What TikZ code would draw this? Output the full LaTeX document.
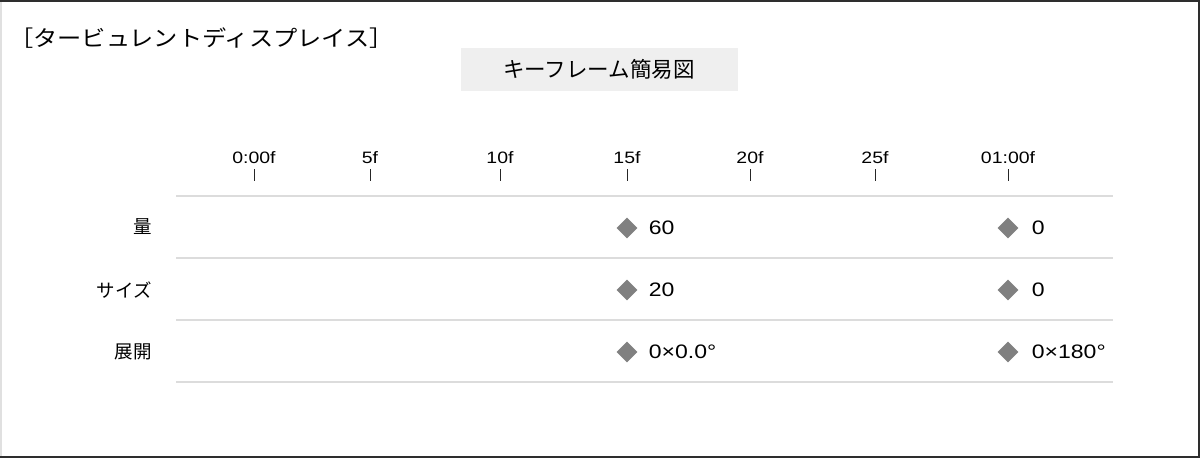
\documentclass[tikz,border=0pt]{standalone}
\usepackage{fontspec}
\setmainfont{Liberation Sans}
\newfontfamily\jpfont{Noto Sans CJK JP}
\newfontfamily\jpwidefont{Noto Sans CJK JP}[FakeStretch=1.1]
\newfontfamily\numfont{Liberation Sans}[FakeStretch=1.18]
\usetikzlibrary{shapes.geometric, positioning}

\definecolor{rowgray}{HTML}{DCDCDC}
\definecolor{keygray}{HTML}{808080}
\definecolor{titlegray}{HTML}{EFEFEF}
\definecolor{framegray}{HTML}{2E2E2E}

\begin{document}
\begin{tikzpicture}[
    x=1pt, y=-1pt,
    % Styles for the timeline rows and keyframes
    rowline/.style={draw=rowgray, line width=2pt},
    tickmark/.style={draw=black!85, line width=1pt},
    framelabel/.style={inner sep=0pt, font=\numfont\fontsize{16.5}{17}\selectfont},
    rowlabel/.style={inner sep=0pt, anchor=east, font=\jpfont\fontsize{18.5}{19}\selectfont},
    keyframe/.style={diamond, fill=keygray, inner sep=0pt, minimum size=21pt},
    keyvalue/.style={inner sep=0pt, anchor=west, font=\numfont\fontsize{19.5}{20}\selectfont}
]

    % Frame

    \useasboundingbox (0,0) rectangle (1200,458);
    \fill[white] (0,0) rectangle (1200,458);
    \draw[black!12, line width=1.5pt] (1,0) -- (1,458);
    \draw[framegray, line width=2pt] (0,1) -- (1199,1) -- (1199,457) -- (0,457);


    % Headings

    \node[inner sep=0pt, anchor=west, font=\jpwidefont\fontsize{22}{22}\selectfont]
        (heading) at (9,38) {［タービュレントディスプレイス］};
    \node[fill=titlegray, minimum width=277pt, minimum height=43pt, inner sep=0pt,
          font=\jpfont\fontsize{21.5}{22}\selectfont]
        (title) at (599,69.5) {キーフレーム簡易図};


    % Time axis

    %% Frame labels and their tick marks
    \foreach \x/\lab [count=\i] in {254/0:00f, 370/5f, 500/10f, 627/15f,
                                    750/20f, 875/25f, 1008/01:00f} {
        \node[framelabel] (f\i) at (\x,158) {\lab};
        \coordinate (t\i) at (\x,169);
        \draw[tickmark] (t\i) -- ++(0,12);
    }

    %% Row separators
    \foreach \y [count=\i] in {196, 258, 320, 382} {
        \coordinate (L\i) at (176,\y);
        \coordinate (R\i) at (1113,\y);
        \draw[rowline] (L\i) -- (R\i);
    }


    % Rows

    %% Property names
    \node[rowlabel] (amount) at (152,227) {量};
    \node[rowlabel] (size) at (152,290) {サイズ};
    \node[rowlabel] (evolve) at (152,352) {展開};

    %% Keyframes at 15f and 01:00f with their values
    \foreach \y/\va/\vb [count=\r] in {228/60/0, 290/20/0, 352/0×0.0°/0×180°} {
        \node[keyframe] (ka\r) at (627,\y) {};
        \node[keyvalue, right=11pt of ka\r] (va\r) {\va};
        \node[keyframe] (kb\r) at (1008,\y) {};
        \node[keyvalue, right=13pt of kb\r] (vb\r) {\vb};
    }

\end{tikzpicture}
\end{document}
